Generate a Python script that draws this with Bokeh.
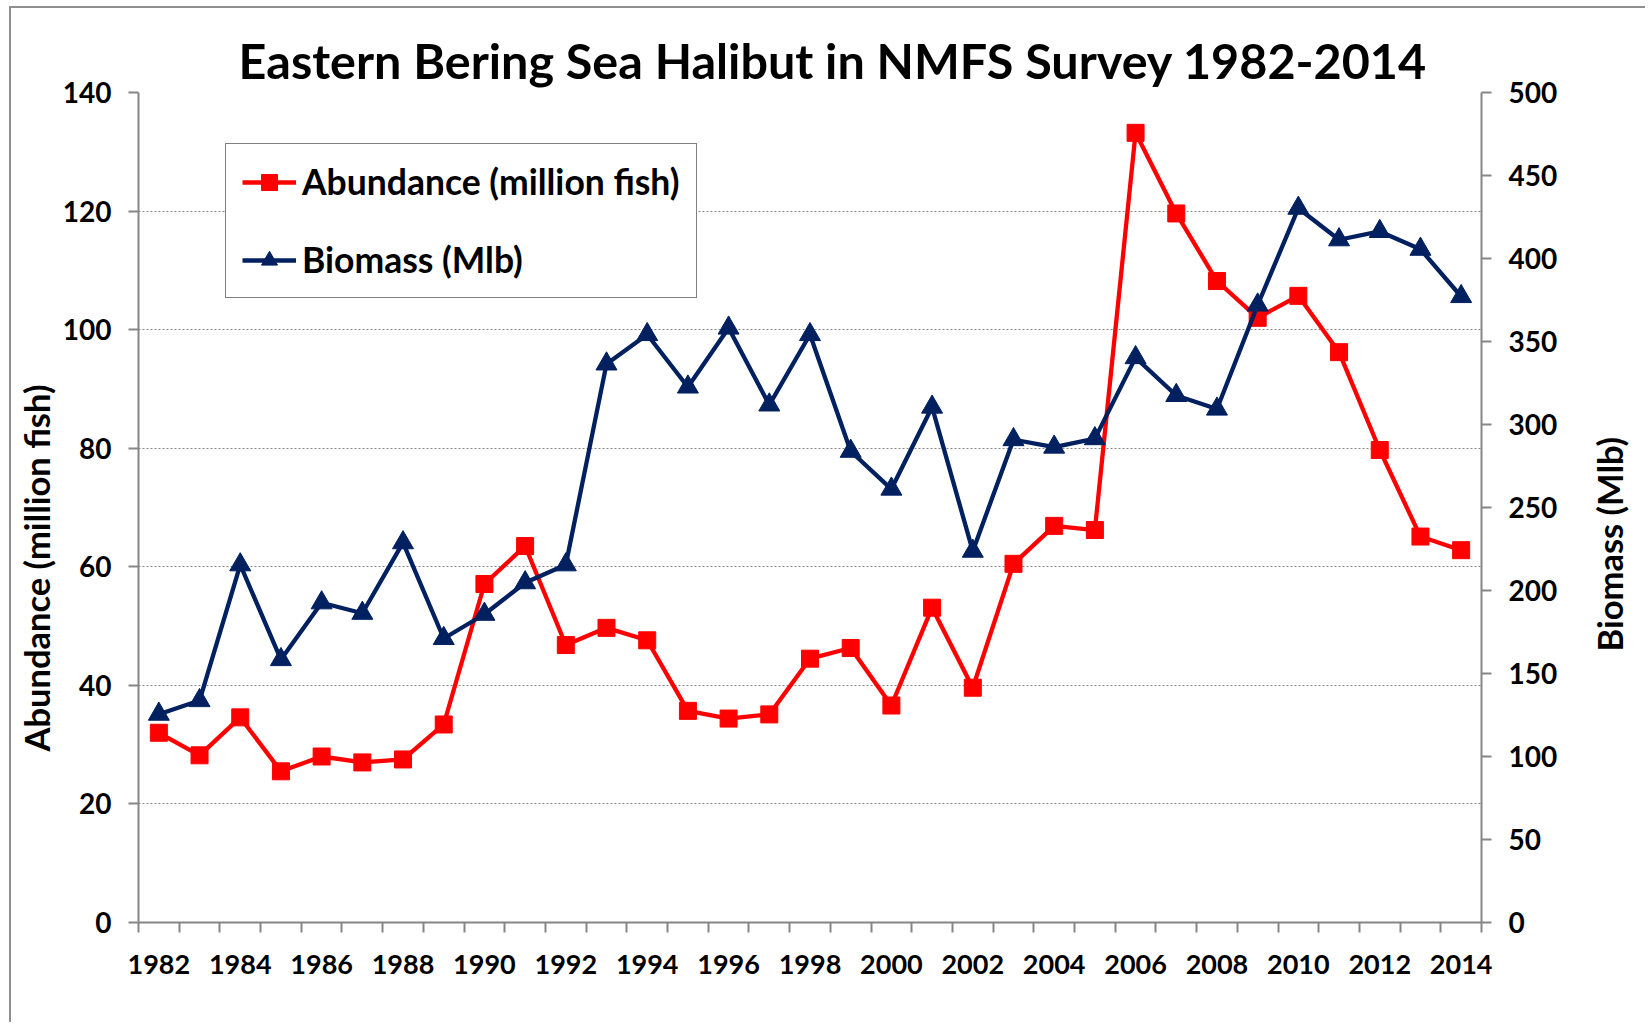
from bokeh.plotting import figure
from bokeh.layouts import row
from bokeh.models import (Range1d, LinearAxis, FixedTicker, Legend, LegendItem, Title)
from bokeh.embed import file_html
from bokeh.resources import INLINE

# ---------------- data ----------------
years = list(range(1982, 2015))
abundance = [32.0, 28.2, 34.6, 25.5, 28.0, 27.0, 27.5, 33.4, 57.1, 63.5,
             46.8, 49.7, 47.6, 35.7, 34.4, 35.1, 44.5, 46.3, 36.6, 53.1,
             39.6, 60.5, 66.9, 66.2, 133.2, 119.6, 108.2, 102.0, 105.7, 96.2,
             79.7, 65.1, 62.8]
biomass = [125.5, 133.7, 215.5, 158.4, 192.6, 186.3, 228.8, 171.1, 185.7, 204.7,
           215.5, 336.5, 354.2, 322.6, 358.1, 311.8, 354.2, 283.9, 261.1, 310.5,
           223.7, 290.9, 286.4, 291.5, 340.3, 317.5, 309.3, 372.0, 430.3, 411.3,
           416.3, 405.6, 377.1]
x_label_years = list(range(1982, 2015, 2))
left_ticks = list(range(0, 141, 20))
right_ticks = list(range(0, 501, 50))

title_text = "Eastern Bering Sea Halibut in NMFS Survey 1982-2014"
left_label = "Abundance (million fish)"
right_label = "Biomass (Mlb)"
abund_name = "Abundance (million fish)"
bio_name = "Biomass (Mlb)"

FONT = "Lato"
RED = "#FF0000"
NAVY = "#002060"
GRAY = "#868686"
BORDER = "#8f8f8f"

H = 1022
W2 = 67
W = 1645 - W2
TOP, BOTTOM = 92, H - 922

p = figure(width=W, height=H, output_backend="svg", toolbar_location=None,
           x_range=Range1d(years[0] - 0.5, years[-1] + 0.5),
           y_range=Range1d(0, 140),
           min_border_left=138, min_border_right=W - 1481,
           min_border_top=TOP, min_border_bottom=BOTTOM,
           y_axis_location=None, x_axis_location=None)
p.extra_y_ranges = {"bio": Range1d(0, 500)}
p.outline_line_color = None
p.background_fill_color = "white"
p.border_fill_color = None
p.styles = {"background": f"linear-gradient({BORDER},{BORDER}) 9px 6px / 2px 3000px no-repeat, "
                          f"linear-gradient({BORDER},{BORDER}) 9px 6px / 3000px 2px no-repeat, white"}

# title
t = Title(text=title_text, align="left", offset=100,
          text_font=FONT, text_font_size="48.5px", text_font_style="bold",
          text_color="black", standoff=7)
p.add_layout(t, "above")

# axes
def style_axis(ax, size="28px"):
    ax.axis_line_color = GRAY
    ax.axis_line_width = 2
    ax.major_tick_line_color = GRAY
    ax.major_tick_line_width = 2
    ax.major_tick_in = 0
    ax.major_tick_out = 10
    ax.minor_tick_line_color = None
    ax.major_label_text_font = FONT
    ax.major_label_text_font_size = size
    ax.major_label_text_font_style = "bold"
    ax.major_label_text_color = "black"
    ax.major_label_standoff = 17

yl = LinearAxis(ticker=FixedTicker(ticks=left_ticks))
style_axis(yl)
p.add_layout(yl, "left")

yr = LinearAxis(y_range_name="bio", ticker=FixedTicker(ticks=right_ticks))
style_axis(yr)
p.add_layout(yr, "right")

boundaries = [y - 0.5 for y in years] + [years[-1] + 0.5]
xa = LinearAxis(ticker=FixedTicker(ticks=x_label_years, minor_ticks=boundaries))
style_axis(xa, "27px")
xa.major_tick_out = 0
xa.major_tick_line_color = None
xa.minor_tick_line_color = GRAY
xa.minor_tick_line_width = 2
xa.minor_tick_in = 0
xa.minor_tick_out = 10
xa.major_label_standoff = 22
p.add_layout(xa, "below")

# left axis title (shifted down like the reference)
p.add_layout(Title(text=left_label, align="left", offset=171,
                   text_font=FONT, text_font_size="34.5px", text_font_style="bold",
                   text_color="black", standoff=6), "left")

# grid
p.xgrid.grid_line_color = None
p.ygrid.ticker = FixedTicker(ticks=left_ticks)
p.ygrid.grid_line_color = GRAY
p.ygrid.grid_line_dash = "2 2"
p.ygrid.grid_line_width = 1

# series
l1 = p.line(years, abundance, line_color=RED, line_width=4.3)
s1 = p.scatter(years, abundance, marker="square", size=17,
               fill_color=RED, line_color=RED)
l2 = p.line(years, biomass, line_color=NAVY, line_width=4.3, y_range_name="bio")
s2 = p.scatter(years, biomass, marker="triangle", size=21,
               fill_color=NAVY, line_color=NAVY, y_range_name="bio")

legend = Legend(items=[LegendItem(label=abund_name, renderers=[l1, s1]),
                       LegendItem(label=bio_name, renderers=[l2, s2])],
                location=(87, 624), margin=0, padding=16, spacing=35,
                glyph_width=54, glyph_height=40, label_height=40,
                label_standoff=6,
                label_text_font=FONT, label_text_font_size="35.5px",
                label_text_font_style="bold", label_text_color="black",
                border_line_color="black", border_line_width=1.5,
                background_fill_color="white", background_fill_alpha=1)
p.add_layout(legend, "center")

# narrow companion figure carrying the right-hand axis title (reads bottom-to-top)
p2 = figure(width=W2, height=H, output_backend="svg", toolbar_location=None,
            x_range=Range1d(0, 1), y_range=Range1d(0, 1),
            min_border_left=58, min_border_right=0,
            min_border_top=TOP, min_border_bottom=BOTTOM,
            y_axis_location=None, x_axis_location=None)
p2.outline_line_color = None
p2.background_fill_color = None
p2.border_fill_color = None
for g in p2.grid:
    g.visible = False
p2.styles = {"background": f"linear-gradient({BORDER},{BORDER}) 0px 6px / 3000px 2px no-repeat, white"}
p2.add_layout(Title(text=right_label, align="left", offset=271,
                    text_font=FONT, text_font_size="34.5px", text_font_style="bold",
                    text_color="black", standoff=17), "left")

layout = row(p, p2, spacing=0)
open("out.html", "w").write(file_html(layout, INLINE))
